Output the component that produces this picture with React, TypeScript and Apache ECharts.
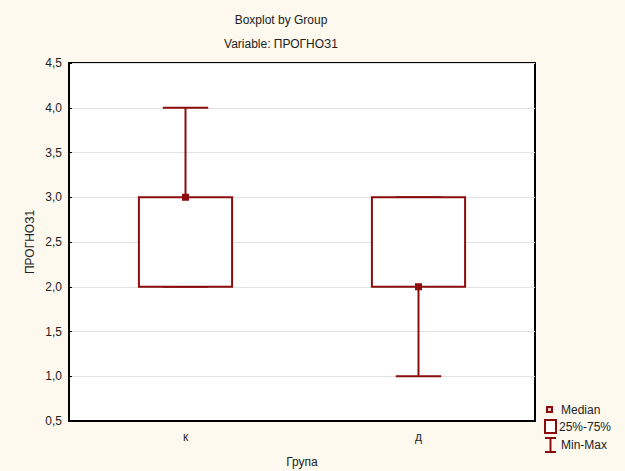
import React, { useEffect, useRef } from "react";
import * as echarts from "echarts";

const categories = ["к", "д"];
// [min, q1, median, q3, max]
const minValues = [2, 1];
const q1Values = [2, 2];
const medianValues = [3, 2];
const q3Values = [3, 3];
const maxValues = [4, 3];

const titleLines = ["Boxplot by Group", "Variable: ПРОГНОЗ1"];
const yAxisName = "ПРОГНОЗ1";
const xAxisName = "Група";
const legendLabels = ["Median", "25%-75%", "Min-Max"];

const RED = "#8a0c0c";
const FONT = "'Liberation Sans', Arial, sans-serif";

export default function App() {
  const ref = useRef<HTMLDivElement>(null);
  useEffect(() => {
    if (!ref.current) return;
    const chart = echarts.init(ref.current, undefined, { renderer: "svg" });
    const data = categories.map((c, i) => [
      i,
      minValues[i],
      q1Values[i],
      medianValues[i],
      q3Values[i],
      maxValues[i],
    ]);
    chart.setOption({
      animation: false,
      backgroundColor: "#fdf9ef",
      textStyle: { fontFamily: FONT },
      grid: {
        left: 69,
        right: 90,
        top: 63,
        bottom: 50,
        show: true,
        backgroundColor: "#ffffff",
        borderColor: "#000",
        borderWidth: 2,
      },
      xAxis: {
        type: "category",
        data: categories,
        boundaryGap: true,
        axisLine: { lineStyle: { color: "#000", width: 2 } },
        axisTick: { inside: true, length: 4, alignWithLabel: true, lineStyle: { color: "#000" } },
        axisLabel: { color: "#222", fontSize: 12, margin: 10, fontFamily: FONT },
        splitLine: { show: false },
      },
      yAxis: {
        type: "value",
        min: 0.5,
        max: 4.5,
        interval: 0.5,
        axisLine: { show: true, lineStyle: { color: "#000", width: 2 } },
        axisTick: { show: true, inside: true, length: 3, lineStyle: { color: "#000" } },
        axisLabel: {
          color: "#222",
          fontSize: 12,
          margin: 7,
          fontFamily: FONT,
          formatter: (v: number) => v.toFixed(1).replace(".", ","),
        },
        splitLine: { show: true, lineStyle: { color: "#e2e2e2", width: 1 } },
      },
      series: [
        {
          type: "custom",
          data,
          encode: { x: 0, y: [1, 2, 3, 4, 5] },
          renderItem: (params: any, api: any) => {
            const x = api.value(0);
            const pMin = api.coord([x, api.value(1)]);
            const pQ1 = api.coord([x, api.value(2)]);
            const pMed = api.coord([x, api.value(3)]);
            const pQ3 = api.coord([x, api.value(4)]);
            const pMax = api.coord([x, api.value(5)]);
            const band = api.size([1, 0])[0];
            const boxW = band * 0.4;
            const capW = band * 0.195;
            const cx = pMed[0];
            const ls = { stroke: RED, lineWidth: 2 };
            return {
              type: "group",
              children: [
                { type: "line", shape: { x1: cx, y1: pQ3[1], x2: cx, y2: pMax[1] }, style: ls },
                { type: "line", shape: { x1: cx, y1: pQ1[1], x2: cx, y2: pMin[1] }, style: ls },
                { type: "line", shape: { x1: cx - capW / 2, y1: pMax[1], x2: cx + capW / 2, y2: pMax[1] }, style: ls },
                { type: "line", shape: { x1: cx - capW / 2, y1: pMin[1], x2: cx + capW / 2, y2: pMin[1] }, style: ls },
                {
                  type: "rect",
                  shape: { x: cx - boxW / 2, y: pQ3[1], width: boxW, height: pQ1[1] - pQ3[1] },
                  style: { fill: "#ffffff", stroke: RED, lineWidth: 2 },
                },
                {
                  type: "rect",
                  shape: { x: cx - 3.5, y: pMed[1] - 3.5, width: 7, height: 7 },
                  style: { fill: RED },
                },
              ],
            };
          },
        },
      ],
      graphic: [
        { type: "text", x: 281, y: 20, style: { text: titleLines[0], font: `12px ${FONT}`, fill: "#222", align: "center", verticalAlign: "middle" } },
        { type: "text", x: 281, y: 44, style: { text: titleLines[1], font: `12px ${FONT}`, fill: "#222", align: "center", verticalAlign: "middle" } },
        { type: "text", x: 30, y: 242, rotation: Math.PI / 2, style: { text: yAxisName, font: `12px ${FONT}`, fill: "#222", align: "center", verticalAlign: "middle" } },
        { type: "text", x: 302, y: 462, style: { text: xAxisName, font: `12px ${FONT}`, fill: "#222", align: "center", verticalAlign: "middle" } },
        // legend: median
        { type: "rect", shape: { x: 547, y: 407, width: 5, height: 5 }, style: { fill: "#e8c8c8", stroke: RED, lineWidth: 2 } },
        { type: "text", x: 561, y: 410, style: { text: legendLabels[0], font: `12px ${FONT}`, fill: "#222", align: "left", verticalAlign: "middle" } },
        // legend: box
        { type: "rect", shape: { x: 545, y: 420, width: 11, height: 13 }, style: { fill: "#fff", stroke: RED, lineWidth: 2 } },
        { type: "text", x: 559, y: 427, style: { text: legendLabels[1], font: `12px ${FONT}`, fill: "#222", align: "left", verticalAlign: "middle" } },
        // legend: whisker
        { type: "line", shape: { x1: 545, y1: 438, x2: 556, y2: 438 }, style: { stroke: RED, lineWidth: 2 } },
        { type: "line", shape: { x1: 550.5, y1: 438, x2: 550.5, y2: 452 }, style: { stroke: RED, lineWidth: 2 } },
        { type: "line", shape: { x1: 545, y1: 452, x2: 556, y2: 452 }, style: { stroke: RED, lineWidth: 2 } },
        { type: "text", x: 561, y: 445, style: { text: legendLabels[2], font: `12px ${FONT}`, fill: "#222", align: "left", verticalAlign: "middle" } },
      ],
    });
    return () => chart.dispose();
  }, []);
  return (
    <div
      ref={ref}
      style={{ position: "absolute", left: 0, top: 0, width: 625, height: 471 }}
    />
  );
}
